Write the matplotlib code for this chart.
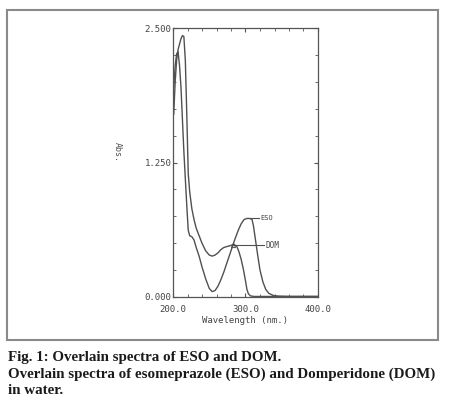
import matplotlib.pyplot as plt
from matplotlib.patches import Rectangle

# wavelength (nm) / absorbance
eso_wl = [201, 203, 205, 207, 209, 211, 213, 215, 217, 219, 221, 223, 226, 229,
          232, 236, 240, 245, 250, 254, 258, 262, 266, 270, 275, 280, 285, 290,
          294, 298, 302, 306, 309, 311, 314, 317, 320, 324, 328, 332, 338, 345,
          360, 400]
eso_abs = [1.95, 2.15, 2.26, 2.28, 2.15, 1.95, 1.65, 1.35, 1.10, 0.85, 0.62, 0.57,
           0.56, 0.53, 0.46, 0.38, 0.28, 0.17, 0.08, 0.05, 0.06, 0.10, 0.16, 0.23,
           0.33, 0.43, 0.53, 0.62, 0.68, 0.72, 0.73, 0.73, 0.72, 0.66, 0.52, 0.38,
           0.25, 0.14, 0.07, 0.035, 0.015, 0.008, 0.005, 0.005]

dom_wl = [201, 203, 205, 207, 209, 211, 213, 215, 217, 219, 221, 223, 226, 229,
          232, 236, 240, 245, 250, 254, 258, 262, 266, 270, 275, 280, 284, 288,
          291, 294, 297, 300, 302, 304, 307, 312, 400]
dom_abs = [1.70, 2.00, 2.20, 2.30, 2.35, 2.40, 2.43, 2.42, 2.20, 1.70, 1.15, 0.98,
           0.82, 0.72, 0.64, 0.57, 0.50, 0.43, 0.39, 0.38, 0.39, 0.41, 0.44, 0.46,
           0.47, 0.48, 0.49, 0.47, 0.42, 0.35, 0.26, 0.15, 0.07, 0.03, 0.01, 0.005,
           0.005]

x_ticklabels = ["200.0", "300.0", "400.0"]
y_ticklabels = ["0.000", "1.250", "2.500"]

W, H = 457, 398
fig = plt.figure(figsize=(W / 100, H / 100), dpi=100)

# outer frame around figure panel
fig.patches.append(Rectangle((7 / W, 1 - 340 / H), 431 / W, 330 / H,
                             transform=fig.transFigure, fill=False,
                             edgecolor="#8a8a8a", linewidth=1.5))

ax = fig.add_axes([173 / W, 1 - 297 / H, 145 / W, 269 / H])
line_c = "#505050"
ax.plot(eso_wl, eso_abs, color=line_c, lw=1.0)
ax.plot(dom_wl, dom_abs, color=line_c, lw=1.0)

ax.set_xlim(200, 400)
ax.set_ylim(0, 2.5)
ax.set_xticks([200, 300, 400])
ax.set_xticklabels(x_ticklabels)
ax.set_yticks([0, 1.25, 2.5])
ax.set_yticklabels(y_ticklabels)
ax.set_xticks(range(220, 400, 20), minor=True)
ax.set_yticks([0.25 * i for i in range(1, 10)], minor=True)
ax.tick_params(which="both", direction="in", top=True, right=True,
               color="#555555", labelsize=6.5, labelcolor="#444444")
ax.tick_params(axis="y", pad=1)
ax.tick_params(axis="x", pad=6)
ax.tick_params(which="major", length=3)
ax.tick_params(which="minor", length=2)
for lab in ax.get_xticklabels() + ax.get_yticklabels():
    lab.set_family("DejaVu Sans Mono")
for s in ax.spines.values():
    s.set_color("#555555")
    s.set_linewidth(0.9)

ax.set_xlabel("Wavelength (nm.)", fontsize=6.5, family="DejaVu Sans Mono",
              color="#444444", labelpad=1)
fig.text(117 / W, 1 - 152 / H, "Abs.", rotation=-90, fontsize=6,
         family="DejaVu Sans Mono", color="#555555", ha="center", va="center")

# peak labels with leader lines
ax.plot([306, 318], [0.73, 0.73], color=line_c, lw=0.8)
ax.text(320, 0.73, "ESO", fontsize=5, family="DejaVu Sans Mono",
        color="#444444", va="center")
ax.plot([283, 325], [0.48, 0.48], color=line_c, lw=0.8)
ax.plot([283], [0.48], marker="^", ms=3, mfc="none", mec=line_c, mew=0.7)
ax.text(328, 0.48, "DOM", fontsize=5.5, family="DejaVu Sans Mono",
        color="#444444", va="center")

cap = dict(fontsize=10.8, family="Liberation Serif", weight="bold",
           color="#1a1a1a", va="center", ha="left")
fig.text(8 / W, 1 - 357 / H, "Fig. 1: Overlain spectra of ESO and DOM.", **cap)
fig.text(8 / W, 1 - 374 / H,
         "Overlain spectra of esomeprazole (ESO) and Domperidone (DOM)", **cap)
fig.text(8 / W, 1 - 390 / H, "in water.", **cap)

fig.savefig("out.png", dpi=100)
